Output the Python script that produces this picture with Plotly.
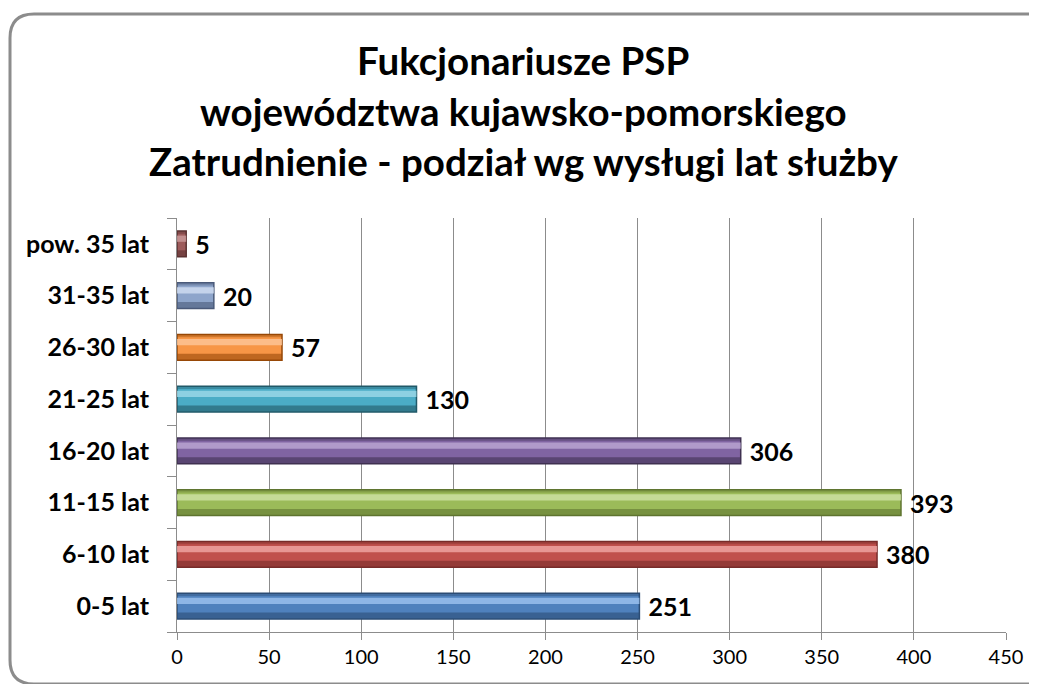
import plotly.graph_objects as go

categories = ["0-5 lat", "6-10 lat", "11-15 lat", "16-20 lat", "21-25 lat", "26-30 lat", "31-35 lat", "pow. 35 lat"]
values = [251, 380, 393, 306, 130, 57, 20, 5]
main_colors = ["#4F81BD", "#C0504D", "#9BBB59", "#8064A2", "#4BACC6", "#F79646", "#8EA5CB", "#9D5B5B"]
dark_colors = ["#2C4D75", "#772C2A", "#5F7530", "#3F3151", "#215968", "#974806", "#4A5A7A", "#5B3232"]
light_colors = ["#9DC3F0", "#F0A8A6", "#CFE3A6", "#BCA8D4", "#9ED9E8", "#FCC79A", "#D2DEF2", "#CC9C9C"]
title_lines = ["Fukcjonariusze PSP", "województwa kujawsko-pomorskiego", "Zatrudnienie - podział wg wysługi lat służby"]
x_ticks = [0, 50, 100, 150, 200, 250, 300, 350, 400, 450]

# page body has an 8px margin -> shift target pixel positions by 8
OFF = 8
W, H = 1037 - OFF, 684 - OFF
L, R, T, B = 177 - OFF, 1006 - OFF, 218 - OFF, 632 - OFF
FONT = "Lato"

def px(x):
    return (x - OFF - L) / (R - L)

def py(y):
    return (B - (y - OFF)) / (B - T)

fig = go.Figure()
# base bar with dark outline
fig.add_trace(go.Bar(
    y=categories, x=values, orientation="h", width=0.5,
    marker=dict(color=main_colors, line=dict(color=dark_colors, width=1.5)),
    text=values, texttemplate="\u00a0%{x}", textposition="outside",
    constraintext="none",
    textfont=dict(family=FONT, size=25, color="black", weight="bold"),
    cliponaxis=False, hoverinfo="skip", showlegend=False,
))
# dark lower band
fig.add_trace(go.Bar(
    y=categories, x=values, orientation="h", width=0.12, offset=-0.245,
    marker=dict(color=dark_colors, opacity=0.6, line=dict(width=0)),
    hoverinfo="skip", showlegend=False,
))
# light highlight band in the upper half
fig.add_trace(go.Bar(
    y=categories, x=values, orientation="h", width=0.12, offset=0.04,
    marker=dict(color=light_colors, opacity=0.8, line=dict(width=0)),
    hoverinfo="skip", showlegend=False,
))
# dark upper edge band
fig.add_trace(go.Bar(
    y=categories, x=values, orientation="h", width=0.05, offset=0.195,
    marker=dict(color=dark_colors, opacity=0.4, line=dict(width=0)),
    hoverinfo="skip", showlegend=False,
))

# title lines
title_y = [60, 111, 161]
for txt, yy in zip(title_lines, title_y):
    fig.add_annotation(
        text=txt, xref="paper", yref="paper", x=px(523), y=py(yy),
        xanchor="center", yanchor="middle", showarrow=False,
        font=dict(family=FONT, size=38.5, color="black", weight="bold"),
    )

# rounded outer border
x0, y0, x1, y1, r = 10, 14, 1050, 684, 24
path = (
    f"M {px(x0)},{py(y0 + r)} "
    f"Q {px(x0)},{py(y0)} {px(x0 + r)},{py(y0)} "
    f"L {px(x1 - r)},{py(y0)} "
    f"Q {px(x1)},{py(y0)} {px(x1)},{py(y0 + r)} "
    f"L {px(x1)},{py(y1 - r)} "
    f"Q {px(x1)},{py(y1)} {px(x1 - r)},{py(y1)} "
    f"L {px(x0 + r)},{py(y1)} "
    f"Q {px(x0)},{py(y1)} {px(x0)},{py(y1 - r)} Z"
)
fig.add_shape(type="path", path=path, xref="paper", yref="paper",
              line=dict(color="#8C8C8C", width=3), layer="below")

fig.update_layout(
    width=W, height=H,
    margin=dict(l=L, r=W - R, t=T, b=H - B, pad=0),
    paper_bgcolor="white", plot_bgcolor="white",
    barmode="overlay", bargap=0.5,
    font=dict(family=FONT, color="black"),
)
fig.update_xaxes(
    range=[0, 450], tickvals=x_ticks, showgrid=True, gridcolor="#8C8C8C", gridwidth=1,
    zeroline=False, showline=True, linecolor="#8C8C8C", linewidth=1,
    ticks="outside", ticklen=7, tickcolor="#8C8C8C",
    tickfont=dict(family=FONT, size=20, color="black"),
)
fig.update_yaxes(
    type="category", categoryorder="array", categoryarray=categories,
    showgrid=False, zeroline=False, showline=True, linecolor="#8C8C8C", linewidth=1,
    ticks="outside", ticklen=9, tickcolor="#8C8C8C", tickson="boundaries",
    ticklabelstandoff=22,
    tickfont=dict(family=FONT, size=25, color="black", weight="bold"),
)

fig.write_html("out.html")
